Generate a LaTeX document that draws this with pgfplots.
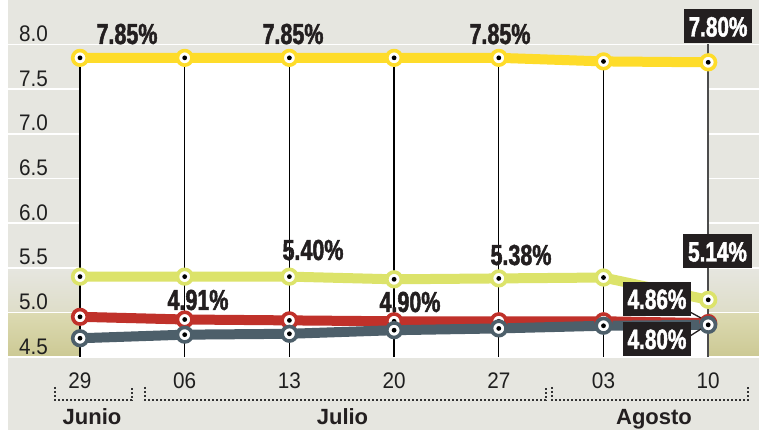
\documentclass[border=0pt]{standalone}
\usepackage{fontspec}
\setmainfont{Liberation Sans}
\newfontfamily\tickfont[FakeStretch=0.92]{Liberation Sans}
\newfontfamily\valfont[FakeStretch=0.74, FakeBold=1.6]{Liberation Sans}
\usepackage{pgfplots}
\pgfplotsset{compat=1.18}
\definecolor{bg}{HTML}{E6E6E0}
\definecolor{oliveA}{HTML}{DEDDC8}
\definecolor{oliveB}{HTML}{DCDAB2}
\definecolor{oliveC}{HTML}{CCC994}
\definecolor{cYellow}{HTML}{FEDC2A}
\definecolor{cLime}{HTML}{DCE36A}
\definecolor{cRed}{HTML}{C0312A}
\definecolor{cSlate}{HTML}{4D5F6A}
\definecolor{boxc}{HTML}{231F20}
\pgfdeclareplotmark{ring}{%
  \pgfpathcircle{\pgfpointorigin}{7.3bp}%
  \pgfsetfillcolor{white}%
  \pgfusepath{fill,stroke}%
  \pgfpathcircle{\pgfpointorigin}{2.4bp}%
  \pgfsetfillcolor{black}%
  \pgfusepath{fill}%
}
\begin{document}
\begin{tikzpicture}
% background
\fill[white] (0,-73bp) rectangle (759bp,357bp);
\fill[bg] (8bp,-73bp) rectangle (759bp,357bp);
\shade[top color=bg, bottom color=oliveA] (8bp,44bp) rectangle (759bp,89bp);
\shade[top color=oliveB, bottom color=oliveC] (8bp,0bp) rectangle (759bp,44bp);
\begin{axis}[
  at={(0,0)}, anchor=south west,
  scale only axis, width=759bp, height=357bp,
  xmin=-0.76409, xmax=6.48520, ymin=4.5, ymax=8.4978,
  axis line style={draw=none}, major tick length=0pt,
  xtick={0,1,2,3,4,5,6},
  xticklabels={29,06,13,20,27,03,10},
  ytick={4.5,5.0,5.5,6.0,6.5,7.0,7.5,8.0},
  yticklabel={\pgfmathprintnumber[fixed,fixed zerofill,precision=1,assume math mode=true]{\tick}},
  ymajorgrids, grid style={white, line width=1.6bp},
  xticklabel style={font=\tickfont\fontsize{22.5bp}{22.5bp}\selectfont, anchor=base, yshift=-31bp, inner sep=0pt, text=black!88},
  yticklabel style={font=\tickfont\fontsize{22.5bp}{22.5bp}\selectfont, anchor=base west, xshift=19bp, yshift=3bp, inner sep=0pt, text=black!88},
  clip=false,
]
% white area under the top series
\addplot[fill=white, draw=none] coordinates {(0,4.5) (0,7.85) (1,7.85) (2,7.85) (3,7.85) (4,7.85) (5,7.81) (6,7.80) (6,4.5)} -- cycle;
% vertical drop lines
\draw[black, line width=1.3bp] (axis cs:0,4.5) -- (axis cs:0,7.85);
\draw[black, line width=1.3bp] (axis cs:1,4.5) -- (axis cs:1,7.85);
\draw[black, line width=1.3bp] (axis cs:2,4.5) -- (axis cs:2,7.85);
\draw[black, line width=1.3bp] (axis cs:3,4.5) -- (axis cs:3,7.85);
\draw[black, line width=1.3bp] (axis cs:4,4.5) -- (axis cs:4,7.85);
\draw[black, line width=1.3bp] (axis cs:5,4.5) -- (axis cs:5,7.81);
\draw[black!70, line width=2bp] (axis cs:6,4.5) -- (axis cs:6,8.0);
% series
\addplot[cYellow, line width=10bp, line join=round, mark=ring, mark options={draw=cYellow, line width=3.6bp}]
  coordinates {(0,7.85) (1,7.85) (2,7.85) (3,7.85) (4,7.85) (5,7.81) (6,7.80)};
\addplot[cLime, line width=10bp, line join=round, mark=ring, mark options={draw=cLime, line width=3.6bp}]
  coordinates {(0,5.40) (1,5.40) (2,5.40) (3,5.37) (4,5.38) (5,5.39) (6,5.14)};
\addplot[cRed, line width=10bp, line join=round, mark=ring, mark options={draw=cRed, line width=3.6bp}]
  coordinates {(0,4.95) (1,4.92) (2,4.91) (3,4.90) (4,4.90) (5,4.90) (6,4.88)};
\addplot[cSlate, line width=10bp, line join=round, mark=ring, mark options={draw=cSlate, line width=3.6bp}]
  coordinates {(0,4.71) (1,4.75) (2,4.76) (3,4.80) (4,4.82) (5,4.85) (6,4.86)};
\end{axis}
\begin{scope}[x=1bp, y=-1bp, shift={(0,357bp)},
  val/.style={font=\valfont\bfseries\fontsize{29bp}{29bp}\selectfont, text=boxc, inner sep=0pt, anchor=base},
  box/.style={fill=boxc, text=white, font=\valfont\bfseries\fontsize{28bp}{28bp}\selectfont, inner xsep=5bp, inner ysep=7bp, text height=20bp, text depth=0pt}]
  \node[val] at (127,44) {7.85\%};
  \node[val] at (293,44) {7.85\%};
  \node[val] at (500,44) {7.85\%};
  \node[val] at (313,260) {5.40\%};
  \node[val] at (521,265) {5.38\%};
  \node[val] at (198,310) {4.91\%};
  \node[val] at (410,312) {4.90\%};
  \draw[boxc, line width=1.3bp] (690,312) -- (701,318);
  \draw[boxc, line width=1.3bp] (690,336) -- (701,329);
  \node[box] at (718,26.5) {7.80\%};
  \node[box] at (717.5,251.5) {5.14\%};
  \node[box] at (657,299) {4.86\%};
  \node[box] at (657,339) {4.80\%};
  % brackets
  \begin{scope}[black!80, line width=1.2bp, dash pattern=on 2bp off 2bp]
    \draw (55,387) -- (55,400) -- (132,400) -- (132,387);
    \draw (145,387) -- (145,400) -- (546,400) -- (546,387);
    \draw (552,387) -- (552,400) -- (748,400) -- (748,387);
  \end{scope}
  \node[font=\bfseries\fontsize{22bp}{22bp}\selectfont, anchor=base, text=boxc, inner sep=0pt] at (92,425) {Junio};
  \node[font=\bfseries\fontsize{22bp}{22bp}\selectfont, anchor=base, text=boxc, inner sep=0pt] at (342.5,425) {Julio};
  \node[font=\bfseries\fontsize{22bp}{22bp}\selectfont, anchor=base, text=boxc, inner sep=0pt] at (654,425) {Agosto};
\end{scope}
\pgfresetboundingbox
\path[use as bounding box] (0,-73bp) rectangle (759bp,357bp);
\end{tikzpicture}
\end{document}
